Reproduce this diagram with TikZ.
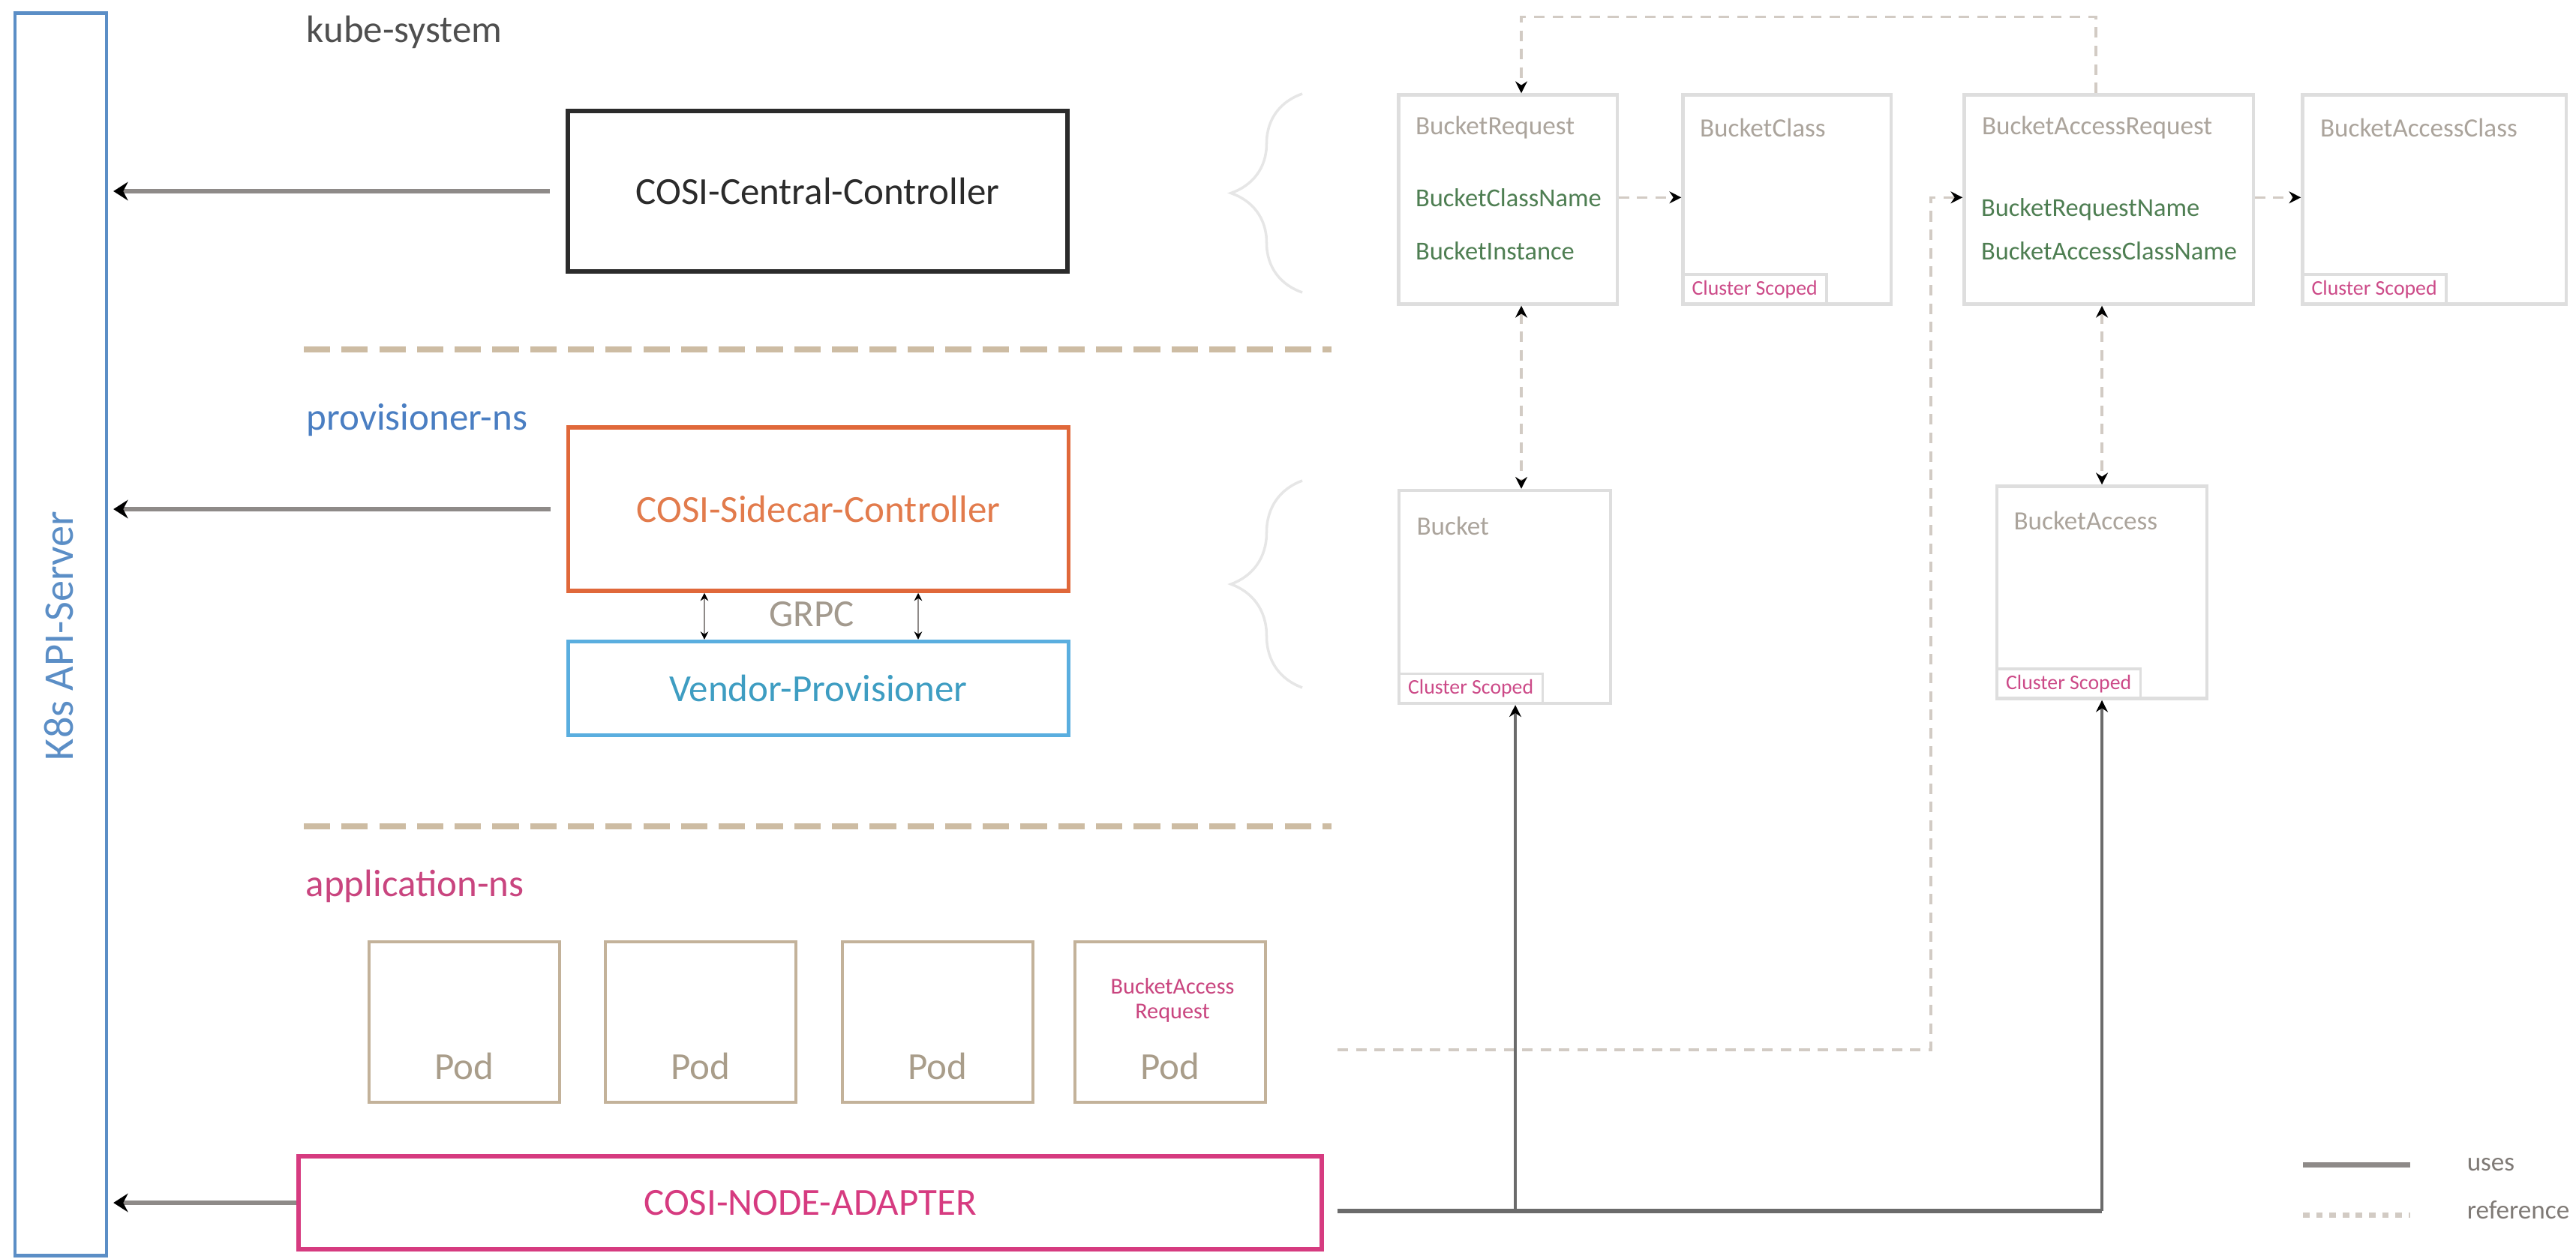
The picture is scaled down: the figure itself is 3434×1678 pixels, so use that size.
\documentclass[tikz,border=0pt]{standalone}
\usepackage{fontspec}
\setmainfont{Carlito}
\usetikzlibrary{arrows.meta,calc,decorations.pathreplacing}

\definecolor{apiblue}{HTML}{5B8EC6}
\definecolor{kubegray}{HTML}{4F4F4F}
\definecolor{centralblack}{HTML}{2B2B2B}
\definecolor{nsblue}{HTML}{4A7EC2}
\definecolor{sidecarorange}{HTML}{E0683A}
\definecolor{sidecartext}{HTML}{E27B4C}
\definecolor{vendorblue}{HTML}{5AAEDF}
\definecolor{vendortext}{HTML}{3E9DC2}
\definecolor{grpcgray}{HTML}{A39A8E}
\definecolor{appmagenta}{HTML}{C9457F}
\definecolor{adaptermagenta}{HTML}{D63B80}
\definecolor{podtan}{HTML}{C3B29A}
\definecolor{podgray}{HTML}{A99D8A}
\definecolor{septan}{HTML}{CDBCA3}
\definecolor{crdgray}{HTML}{DEDEDE}
\definecolor{titlegray}{HTML}{ABA49C}
\definecolor{fieldgreen}{HTML}{4E7E52}
\definecolor{scopemagenta}{HTML}{CC4A88}
\definecolor{usesgray}{HTML}{6B6B6B}
\definecolor{refgray}{HTML}{D2CBC4}
\definecolor{arrowgray}{HTML}{8E8A88}
\definecolor{bracegray}{HTML}{E6E6E6}
\definecolor{legendgray}{HTML}{7F7A76}

\begin{document}
\begin{tikzpicture}
    [x=0.01cm,y=-0.01cm,
     every node/.style={inner sep=0pt,font=\fontsize{14.5}{17}\selectfont},
     >={Stealth[length=4.5pt,width=4.5pt,color=black]},
     compbox/.style={draw,line width=1.5pt,minimum width=6.66cm},
     crd/.style={draw=crdgray,line width=1.2pt,minimum height=2.79cm},
     crdtitle/.style={anchor=west,text=titlegray,font=\fontsize{10}{12}\selectfont},
     fieldtext/.style={anchor=west,text=fieldgreen,font=\fontsize{9.8}{12}\selectfont},
     scopetag/.style={draw=crdgray,line width=1pt,anchor=south west,minimum width=1.92cm,minimum height=0.4cm,text=scopemagenta,font=\fontsize{7.9}{9}\selectfont},
     pod/.style={draw=podtan,line width=1.3pt,minimum width=2.54cm,minimum height=2.14cm},
     nslabel/.style={anchor=west},
     toapi/.style={draw=arrowgray,line width=1.7pt,-{Stealth[length=5.5pt,width=7pt,color=black]}},
     grpcline/.style={draw=arrowgray,line width=0.6pt,{Stealth[length=3pt,width=3pt,color=black]}-{Stealth[length=3pt,width=3pt,color=black]}},
     sepline/.style={draw=septan,line width=2.3pt,dash pattern=on 10pt off 4.3pt},
     refline/.style={draw=refgray,line width=1pt,dash pattern=on 4pt off 3pt},
     usesline/.style={draw=usesgray,line width=1pt},
     legendtext/.style={anchor=west,text=legendgray,font=\fontsize{10}{12}\selectfont},
     bracestyle/.style={draw=bracegray,line width=1pt,decorate,decoration={brace,amplitude=0.95cm}}]

      \useasboundingbox (0,0) rectangle (3434,1678);

      % left column
      \node[draw=apiblue,line width=1.2pt,minimum width=1.22cm,minimum height=16.56cm] (api) at (81,846) {};
      \node[rotate=90,text=apiblue,font=\fontsize{16}{19}\selectfont] (apilbl) at (78,848) {K8s API-Server};

      \node[nslabel,text=kubegray]   (kubens) at (408,43)   {kube-system};
      \node[nslabel,text=nsblue]     (provns) at (408,560)  {provisioner-ns};
      \node[nslabel,text=appmagenta] (appns)  at (407,1182) {application-ns};

      \node[compbox,draw=centralblack,line width=1.8pt,minimum height=2.14cm,text=centralblack] (central) at (1090,255) {COSI-Central-Controller};
      \node[compbox,draw=sidecarorange,minimum height=2.18cm,text=sidecartext] (sidecar) at (1091,679) {COSI-Sidecar-Controller};
      \node[compbox,draw=vendorblue,minimum height=1.25cm,text=vendortext] (vendor) at (1091,918) {Vendor-Provisioner};
      \node[text=grpcgray] (grpc) at (1082,819) {GRPC};
      \node[compbox,draw=adaptermagenta,minimum width=13.63cm,minimum height=1.24cm,text=adaptermagenta] (adapter) at (1080,1604) {COSI-NODE-ADAPTER};

      \foreach \i/\x in {1/619,2/934,3/1250,4/1560} {
        \node[pod] (pod\i) at (\x,1363) {};
        \node[text=podgray] (podlbl\i) at (\x,1422) {Pod};
      }
      \node[text=appmagenta,align=center,font=\fontsize{8.6}{9.4}\selectfont] (podbar) at (1563,1334) {BucketAccess\\Request};

      \foreach \y in {466,1102}
        \draw[sepline] (405,\y) -- (1775,\y);

      \foreach \from/\gap in {central/6pt,sidecar/6pt,adapter/0pt}
        \draw[toapi,shorten <=\gap,shorten >=2pt] (\from.west) -- (\from.west -| api.east);

      \draw[grpcline] ($(sidecar.south)+(-152,0)$) -- ($(vendor.north)+(-152,0)$);
      \draw[grpcline] ($(sidecar.south)+(133,0)$) -- ($(vendor.north)+(133,0)$);

      % resources
      \node[crd,minimum width=2.91cm] (breq)   at (2010,266) {};
      \node[crd,minimum width=2.77cm] (bclass) at (2382,266) {};
      \node[crd,minimum width=3.85cm] (bar)    at (2811,266) {};
      \node[crd,minimum width=3.51cm] (bac)    at (3245,266) {};
      \node[crd,minimum width=2.82cm,minimum height=2.84cm] (bucket) at (2006,796) {};
      \node[crd,minimum width=2.80cm,minimum height=2.83cm] (bacc)   at (2802,790) {};

      \node[crdtitle] (breqt)   at ($(breq.north west)+(24,46)$)   {BucketRequest};
      \node[crdtitle] (bclasst) at ($(bclass.north west)+(24,46)$) {BucketClass};
      \node[crdtitle] (bart)    at ($(bar.north west)+(25,46)$)    {BucketAccessRequest};
      \node[crdtitle] (bact)    at ($(bac.north west)+(25,46)$)    {BucketAccessClass};
      \node[crdtitle] (buckett) at ($(bucket.north west)+(25,50)$) {Bucket};
      \node[crdtitle] (bacct)   at ($(bacc.north west)+(24,48)$)   {BucketAccess};

      \node[fieldtext] (bcname)  at ($(breq.north west)+(24,139)$) {BucketClassName};
      \node[fieldtext] (binst)   at ($(breq.north west)+(24,210)$) {BucketInstance};
      \node[fieldtext] (brname)  at ($(bar.north west)+(24,155)$)  {BucketRequestName};
      \node[fieldtext] (bacname) at ($(bar.north west)+(24,210)$)  {BucketAccessClassName};

      \foreach \n in {bclass,bac,bucket,bacc}
        \node[scopetag] (tag\n) at (\n.south west) {Cluster Scoped};

      \draw[bracestyle] (1736,390) -- (1736,125);
      \draw[bracestyle] (1736,917) -- (1736,641);

      % references
      \draw[refline,->] ($(bar.north)+(-17,0)$) -- ++(0,-102) -| ($(breq.north)+(18,0)$);
      \draw[refline,->] (breq.east |- bcname) -- (bclass.west |- bcname);
      \draw[refline,->] (bar.east |- bcname) -- (bac.west |- bcname);
      \draw[refline,<->] ($(breq.south)+(18,0)$) -- ($(bucket.north)+(22,0)$);
      \draw[refline,<->] (bacc.north |- bar.south) -- (bacc.north);
      \coordinate (podref) at (1783,1400);
      \coordinate (refbend) at (2574,1400);
      \draw[refline,->] (podref) -- (refbend) |- (bar.west |- bcname);

      % uses
      \coordinate (usesstart) at (1783,1615);
      \coordinate (bucketin) at ($(bucket.south)+(14,0)$);
      \draw[usesline,line width=1.8pt] (usesstart) -- (usesstart -| bacc.south);
      \foreach \t in {bucketin,bacc.south}
        \draw[usesline,->] (\t |- usesstart) -- (\t);

      % legend
      \coordinate (lgusesa) at (3070,1553);
      \coordinate (lgusesb) at (3213,1553);
      \coordinate (lgrefa) at (3070,1620);
      \coordinate (lgrefb) at (3213,1620);
      \draw[draw=arrowgray,line width=2pt] (lgusesa) -- (lgusesb);
      \draw[draw=refgray,line width=2pt,dash pattern=on 2.5pt off 2.5pt] (lgrefa) -- (lgrefb);
      \node[legendtext] (lguses) at (3288,1553) {uses};
      \node[legendtext] (lgref)  at (3288,1614) {reference};
\end{tikzpicture}
\end{document}
